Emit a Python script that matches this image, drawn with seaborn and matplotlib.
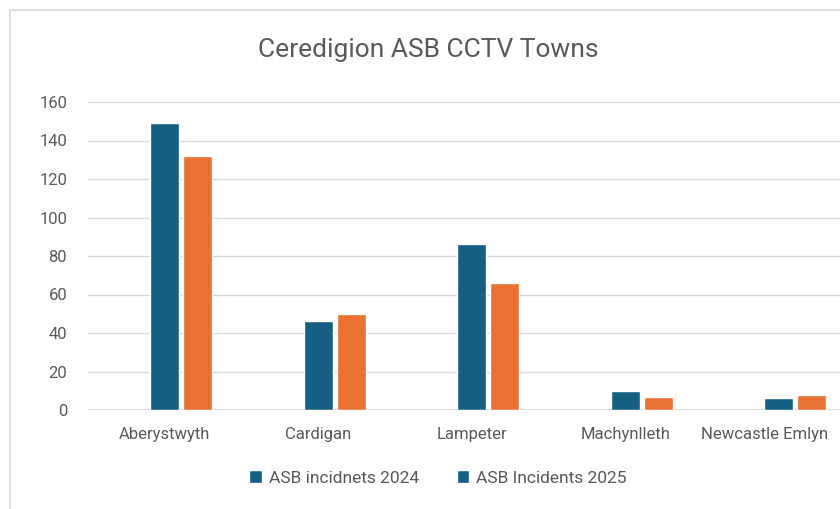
import pandas as pd
import matplotlib.pyplot as plt
import matplotlib.transforms as mtransforms
import seaborn as sns
from matplotlib.patches import Rectangle, Patch

# data
towns = ["Aberystwyth", "Cardigan", "Lampeter", "Machynlleth", "Newcastle Emlyn"]
incidents_2024 = [149, 46, 86, 10, 6]
incidents_2025 = [132, 50, 66, 7, 8]
series = ["ASB incidnets 2024", "ASB Incidents 2025"]

df = pd.DataFrame({
    "Town": towns * 2,
    "Series": [series[0]] * len(towns) + [series[1]] * len(towns),
    "Count": incidents_2024 + incidents_2025,
})

blue = "#156082"
orange = "#E97132"
grey_text = "#595959"

sns.set_style("white")
plt.rcParams["font.family"] = ["Roboto", "DejaVu Sans"]

fig = plt.figure(figsize=(8.4, 5.09), dpi=100)
ax = fig.add_axes([88 / 840, 1 - 410 / 509, 767.5 / 840, 308 / 509])

# empty first slot like the hidden series in the original
sns.barplot(data=df, x="Town", y="Count", hue="Series",
            hue_order=[" ", series[0], series[1]],
            palette={" ": blue, series[0]: blue, series[1]: orange},
            width=0.645, gap=0.12, ax=ax, legend=False, saturation=1)

ax.set_ylim(0, 160)
ax.set_xlim(-0.5, 4.5)
ax.set_yticks(range(0, 161, 20))
ax.yaxis.grid(True, color="#D9D9D9", linewidth=1)
ax.set_axisbelow(True)
for s in ax.spines.values():
    s.set_visible(False)
ax.axhline(0, color="#D9D9D9", linewidth=1.2, zorder=0)
ax.set_xlabel("")
ax.set_ylabel("")
ax.tick_params(axis="y", labelsize=12, labelcolor=grey_text, length=0, pad=15)
ax.tick_params(axis="x", labelsize=12, labelcolor=grey_text, length=0, pad=12)

# last label pushed left so it stays inside the picture
last = ax.get_xticklabels()[-1]
last.set_transform(last.get_transform() +
                   mtransforms.ScaledTranslation(-10 / 72, 0, fig.dpi_scale_trans))

# chart border
fig.patches.append(Rectangle((10 / 840, -0.2), 2, 1.2 - 10 / 509, transform=fig.transFigure,
                             fill=False, edgecolor="#D9D9D9", linewidth=1.2))

fig.text(428 / 840, 1 - 50 / 509, "Ceredigion ASB CCTV Towns", ha="center", va="center",
         fontsize=19, color=grey_text)

handles = [Patch(facecolor=blue, label=series[0]), Patch(facecolor=blue, label=series[1])]
fig.legend(handles=handles, loc="center", bbox_to_anchor=(438 / 840, 1 - 478 / 509), ncol=2,
           frameon=False, fontsize=12.5, labelcolor=grey_text, handlelength=0.7, handleheight=0.7,
           handletextpad=0.4, columnspacing=2.2)

fig.savefig("out.png", dpi=100)
